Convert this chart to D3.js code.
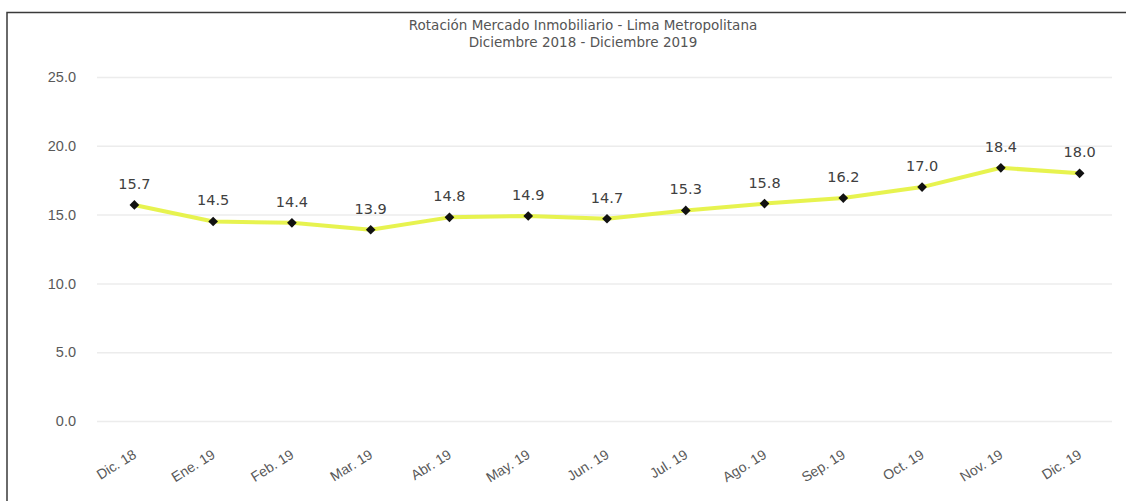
<!DOCTYPE html>
<html>
<head>
<meta charset="utf-8">
<script src="https://cdn.jsdelivr.net/npm/d3@7"></script>
<style>
  html, body { margin: 0; padding: 0; background: #fff; }
  svg { display: block; font-family: "DejaVu Sans", Lato, sans-serif; }
</style>
</head>
<body>
<svg id="chart" width="1126" height="501"></svg>
<script>
// Rotación del mercado inmobiliario, Lima Metropolitana
const months = ["Dic. 18", "Ene. 19", "Feb. 19", "Mar. 19", "Abr. 19", "May. 19", "Jun. 19",
                "Jul. 19", "Ago. 19", "Sep. 19", "Oct. 19", "Nov. 19", "Dic. 19"];
const rotation = [15.7, 14.5, 14.4, 13.9, 14.8, 14.9, 14.7, 15.3, 15.8, 16.2, 17.0, 18.4, 18.0];
const yTicks = [0, 5, 10, 15, 20, 25];
const titleLines = ["Rotación Mercado Inmobiliario - Lima Metropolitana", "Diciembre 2018 - Diciembre 2019"];

const svg = d3.select("#chart");
const W = 1126, H = 501;
const plot = { left: 95, right: 1119, top: 77, bottom: 421 };

// chart frame (top and left edges)
svg.append("path")
  .attr("d", `M7,${H} L7,12.5 L${W},12.5`)
  .attr("fill", "none").attr("stroke", "#3a3a3a").attr("stroke-width", 1.5);

const x = d3.scaleBand().domain(months).range([plot.left, plot.right]);
const y = d3.scaleLinear().domain([0, 25]).range([plot.bottom, plot.top]);

// horizontal gridlines + y labels
const yAxis = svg.append("g")
  .attr("transform", `translate(${plot.left},0)`)
  .call(d3.axisLeft(y).tickValues(yTicks).tickFormat(d3.format(".1f"))
        .tickSize(-(plot.right - plot.left - 7)).tickPadding(19));
yAxis.select(".domain").remove();
yAxis.selectAll(".tick line").attr("stroke", "#ececec").attr("stroke-width", 1.5)
  .attr("x1", 2);
yAxis.selectAll(".tick text").attr("fill", "#595959").attr("font-size", 14.5);

// category labels, rotated
const xAxis = svg.append("g")
  .attr("transform", `translate(0,${plot.bottom})`)
  .call(d3.axisBottom(x).tickSize(0).tickPadding(0));
xAxis.select(".domain").remove();
xAxis.selectAll(".tick text")
  .attr("fill", "#595959").attr("font-size", 14)
  .attr("text-anchor", "end")
  .attr("dy", 0)
  .attr("transform", "translate(3,36) rotate(-32)");

// series line
const cx = d => x(d.m) + x.bandwidth() / 2;
const pts = months.map((m, i) => ({ m, v: rotation[i] }));
svg.append("path")
  .datum(pts)
  .attr("fill", "none")
  .attr("stroke", "#e4f23c")
  .attr("stroke-opacity", 0.9)
  .attr("stroke-width", 4)
  .attr("stroke-linejoin", "round")
  .attr("d", d3.line().x(cx).y(d => y(d.v)));

// diamond markers
svg.append("g").selectAll("path")
  .data(pts).join("path")
  .attr("transform", d => `translate(${cx(d)},${y(d.v)})`)
  .attr("d", d3.symbol().type(d3.symbolDiamond2).size(60))
  .attr("fill", "#111");

// value labels
svg.append("g").selectAll("text")
  .data(pts).join("text")
  .attr("x", cx)
  .attr("y", d => y(d.v) - 16)
  .attr("text-anchor", "middle")
  .attr("fill", "#404040")
  .attr("font-size", 14.5)
  .text(d => d.v.toFixed(1));

// title
svg.append("g").selectAll("text")
  .data(titleLines).join("text")
  .attr("x", 583)
  .attr("y", (d, i) => 30 + i * 17)
  .attr("text-anchor", "middle")
  .attr("fill", "#555")
  .attr("font-size", 13.5)
  .text(d => d);
</script>
</body>
</html>
